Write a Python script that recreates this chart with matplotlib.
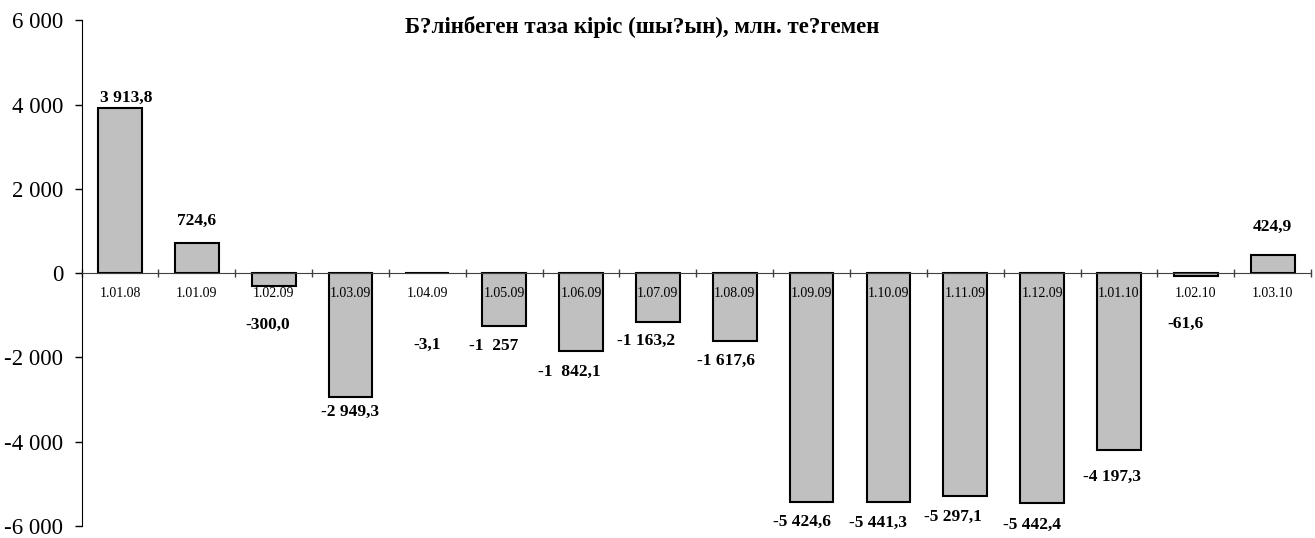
import numpy as np
import matplotlib
matplotlib.use('Agg')
import matplotlib.pyplot as plt
from matplotlib.ticker import FuncFormatter

# data
dates = ['1.01.08', '1.01.09', '1.02.09', '1.03.09', '1.04.09', '1.05.09', '1.06.09', '1.07.09',
         '1.08.09', '1.09.09', '1.10.09', '1.11.09', '1.12.09', '1.01.10', '1.02.10', '1.03.10']
values = [3913.8, 724.6, -300.0, -2949.3, -3.1, -1257.0, -1842.1, -1163.2,
          -1617.6, -5424.6, -5441.3, -5297.1, -5442.4, -4197.3, -61.6, 424.9]
value_texts = ['3 913,8', '724,6', '-300,0', '-2 949,3', '-3,1', '-1  257', '-1  842,1', '-1 163,2',
               '-1 617,6', '-5 424,6', '-5 441,3', '-5 297,1', '-5 442,4', '-4 197,3', '-61,6', '424,9']
title = 'Б?лінбеген таза кіріс (шы?ын), млн. те?гемен'

# label nudges in pixels (dx, dy from bar end), as placed in the original
label_nudge = [(6, 10), (0, 22), (-6, -39), (0, -14), (0, -72), (-11, -20), (-12, -21), (-12, -19),
               (-9, -20), (-10, -20), (-10, -20), (-12, -20), (-10, -22), (-7, -27), (-10, -48), (0, 28)]

plt.rcParams['font.family'] = ['Liberation Serif', 'DejaVu Serif']
plt.rcParams['axes.unicode_minus'] = False

fig = plt.figure(figsize=(13.15, 5.38), dpi=100)
ax = fig.add_axes([0.062, 0.0223, 0.935, 0.9397])

x = np.arange(len(values))
ax.bar(x, values, width=0.57, color='#C0C0C0', edgecolor='black', linewidth=1.5, zorder=2)

ax.set_xlim(-0.5, len(values) - 0.5)
ax.set_ylim(-6000, 6000)
ax.set_yticks(np.arange(-6000, 6001, 2000))
ax.yaxis.set_major_formatter(FuncFormatter(lambda v, p: f'{int(v):,}'.replace(',', ' ')))
ax.tick_params(axis='y', labelsize=16.5, length=5, width=1, direction='out', pad=8)

# zero line with category boundary ticks
ax.spines['bottom'].set_position(('data', 0))
ax.spines['bottom'].set_color('#404040')
ax.spines['bottom'].set_zorder(3)
ax.set_xticks(np.arange(-0.5, len(values), 1.0))
ax.set_xticklabels([])
ax.tick_params(axis='x', direction='inout', length=6, width=1, color='#404040')
ax.spines['top'].set_visible(False)
ax.spines['right'].set_visible(False)

px = 0.72  # points per pixel at 100 dpi
for i, (v, t) in enumerate(zip(values, value_texts)):
    ax.annotate(dates[i], (i, 0), xytext=(0, -20 * px), textcoords='offset points',
                ha='center', va='center', fontsize=10, zorder=4)
    dx, dy = label_nudge[i]
    ax.annotate(t, (i, v), xytext=(dx * px, dy * px), textcoords='offset points',
                ha='center', va='center', fontsize=12.5, fontweight='bold', zorder=4)

fig.text(0.488, 0.95, title, ha='center', va='center', fontsize=16.5, fontweight='bold')

fig.savefig('out.png', dpi=100)
